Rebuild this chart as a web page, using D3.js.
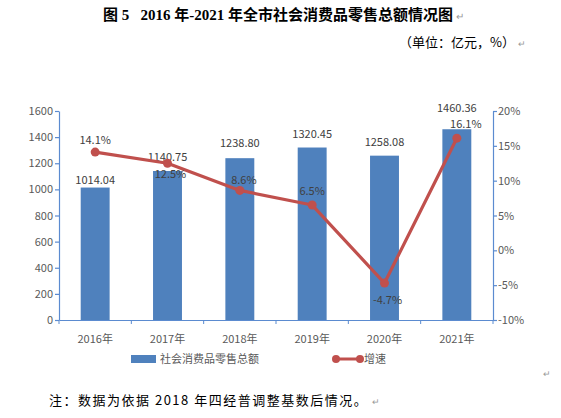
<!DOCTYPE html>
<html>
<head>
<meta charset="utf-8">
<script src="https://cdn.jsdelivr.net/npm/d3@7"></script>
<style>
body { margin: 0; background: #fff; }
svg text { font-family: "Noto Sans CJK SC", "Noto Sans", sans-serif; }
</style>
</head>
<body>
<svg id="chart" width="561" height="418"></svg>
<script>
var years = ["2016年", "2017年", "2018年", "2019年", "2020年", "2021年"];
var sales = [1014.04, 1140.75, 1238.80, 1320.45, 1258.08, 1460.36];
var growth = [14.1, 12.5, 8.6, 6.5, -4.7, 16.1];
var leftTicks = [0, 200, 400, 600, 800, 1000, 1200, 1400, 1600];
var rightTicks = [-10, -5, 0, 5, 10, 15, 20];

// hand-placed label nudges (px), as in the original document
var barLabDy = [-4, -10, -11, -10, -10, -17];
var growthLabDy = [-8, 15, -6, -10, 21, -10];
var growthLabDx = [0, 3, 4, 0, 3, 9];

var svg = d3.select("#chart");
var blue = "#4f81bd", red = "#c0504d", axisColor = "#5b8bd0", grey = "#595959";

var x = d3.scaleBand().domain(years).range([59, 493]).paddingInner(0.6).paddingOuter(0.3);
var band = d3.scaleBand().domain(years).range([59, 493]);
var yL = d3.scaleLinear().domain([0, 1600]).range([320, 111]);
var yR = d3.scaleLinear().domain([-10, 20]).range([320, 111]);

// titles
svg.append("text")
	.attr("x", 278).attr("y", 20)
	.attr("text-anchor", "middle")
	.style("font-family", "'Liberation Serif', 'Noto Sans CJK SC', serif")
	.style("font-size", "15px")
	.style("font-weight", "bold")
	.attr("fill", "#000")
	.text("图 5\u00a0\u00a0\u00a02016 年-2021 年全市社会消费品零售总额情况图");
svg.append("text")
	.attr("x", 456).attr("y", 20)
	.style("font-size", "10px").attr("fill", "#999")
	.text("↵");

svg.append("text")
	.attr("x", 515).attr("y", 47)
	.attr("text-anchor", "end")
	.style("font-size", "13px")
	.attr("fill", "#000")
	.text("（单位：亿元，%）");
svg.append("text")
	.attr("x", 518).attr("y", 47)
	.style("font-size", "9px").attr("fill", "#999")
	.text("↵");

// bars
svg.selectAll("rect.bar")
	.data(sales)
	.enter().append("rect")
	.attr("class", "bar")
	.attr("x", function(d, i) { return x(years[i]); })
	.attr("width", x.bandwidth())
	.attr("y", function(d) { return yL(d); })
	.attr("height", function(d) { return yL(0) - yL(d); })
	.attr("fill", blue);

svg.selectAll("text.barlab")
	.data(sales)
	.enter().append("text")
	.attr("class", "barlab")
	.attr("x", function(d, i) { return x(years[i]) + x.bandwidth() / 2; })
	.attr("y", function(d, i) { return yL(d) + barLabDy[i]; })
	.attr("text-anchor", "middle")
	.style("font-size", "11px")
	.attr("fill", "#404040")
	.text(function(d) { return d.toFixed(2); });

// axes
var gL = svg.append("g").attr("transform", "translate(59,0)")
	.call(d3.axisLeft(yL).tickValues(leftTicks).tickSize(4).tickSizeOuter(0)
		.tickFormat(d3.format("d")));
var gR = svg.append("g").attr("transform", "translate(493,0)")
	.call(d3.axisRight(yR).tickValues(rightTicks).tickSize(4).tickSizeOuter(0)
		.tickFormat(function(d) { return d + "%"; }));
var gX = svg.append("g").attr("transform", "translate(0,320)")
	.call(d3.axisBottom(x).tickSize(0).tickSizeOuter(0).tickPadding(15));

// band boundary ticks on x axis
svg.selectAll("line.xt")
	.data(years.concat(["end"]))
	.enter().append("line")
	.attr("class", "xt")
	.attr("x1", function(d, i) { return 59 + i * band.bandwidth(); })
	.attr("x2", function(d, i) { return 59 + i * band.bandwidth(); })
	.attr("y1", 320).attr("y2", 324)
	.attr("stroke", axisColor);

[gL, gR, gX].forEach(function(g) {
	g.selectAll("path, line").attr("stroke", axisColor).attr("stroke-width", 1.2);
	g.selectAll("text").attr("fill", grey).style("font-size", "11px")
		.style("font-family", "'Noto Sans CJK SC', sans-serif");
});
gL.selectAll("text").attr("x", -6);
gR.selectAll("text").attr("x", 5);

// growth line
var line = d3.line()
	.x(function(d, i) { return band(years[i]) + band.bandwidth() / 2; })
	.y(function(d) { return yR(d); });

svg.append("path")
	.datum(growth)
	.attr("d", line)
	.attr("fill", "none")
	.attr("stroke", red)
	.attr("stroke-width", 3.2)
	.attr("stroke-linejoin", "round");

svg.selectAll("circle.pt")
	.data(growth)
	.enter().append("circle")
	.attr("class", "pt")
	.attr("cx", function(d, i) { return band(years[i]) + band.bandwidth() / 2; })
	.attr("cy", function(d) { return yR(d); })
	.attr("r", 4.5)
	.attr("fill", red);

svg.selectAll("text.glab")
	.data(growth)
	.enter().append("text")
	.attr("class", "glab")
	.attr("x", function(d, i) { return band(years[i]) + band.bandwidth() / 2 + growthLabDx[i]; })
	.attr("y", function(d, i) { return yR(d) + growthLabDy[i]; })
	.attr("text-anchor", "middle")
	.style("font-size", "11px")
	.attr("fill", "#404040")
	.text(function(d) { return d.toFixed(1) + "%"; });

// legend
var lg = svg.append("g");
lg.append("rect").attr("x", 131).attr("y", 355).attr("width", 25).attr("height", 8).attr("fill", blue);
lg.append("text").attr("x", 160).attr("y", 363).style("font-size", "11px").attr("fill", grey).text("社会消费品零售总额");
lg.append("line").attr("x1", 336).attr("x2", 360).attr("y1", 359).attr("y2", 359)
	.attr("stroke", red).attr("stroke-width", 3);
lg.append("circle").attr("cx", 336).attr("cy", 359).attr("r", 4).attr("fill", red);
lg.append("circle").attr("cx", 360).attr("cy", 359).attr("r", 4).attr("fill", red);
lg.append("text").attr("x", 364).attr("y", 363).style("font-size", "11px").attr("fill", grey).text("增速");

svg.append("text")
	.attr("x", 543).attr("y", 377)
	.style("font-size", "9px").attr("fill", "#999")
	.text("↵");

// footnote
svg.append("text")
	.attr("x", 49).attr("y", 405)
	.style("font-size", "13px")
	.style("letter-spacing", "1.5px")
	.attr("fill", "#000")
	.text("注：数据为依据 2018 年四经普调整基数后情况。");
svg.append("text")
	.attr("x", 372).attr("y", 405)
	.style("font-size", "9px").attr("fill", "#999")
	.text("↵");
</script>
</body>
</html>
